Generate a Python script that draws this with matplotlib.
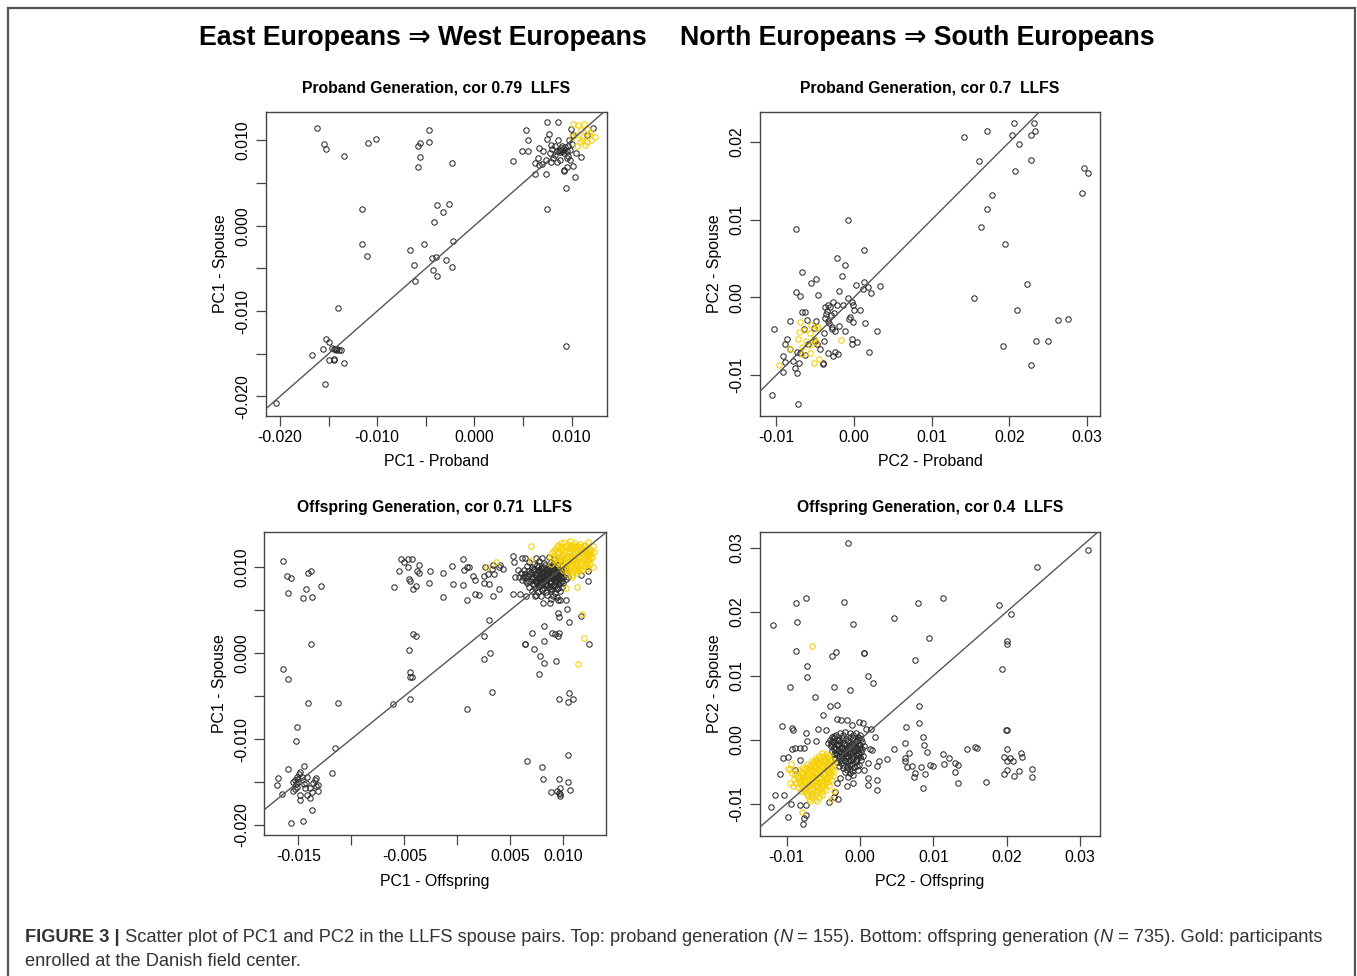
import numpy as np
import matplotlib
matplotlib.use('Agg')
import matplotlib.pyplot as plt
from matplotlib.lines import Line2D

# all coordinates are stored in units of 1e-4
SCALE = 1e-4

# ---- proband generation, PC1 ----
pc1_prob_other = [
    (-162, 115), (-155, 96), (-153, 90), (-134, 82), (-110, 97), (-101, 102), (-47, 112), (-47, 98),
    (-56, 97), (-58, 93), (-56, 81), (-58, 69), (-23, 73),
    (-116, 19), (-116, -22), (-111, -36), (-38, 24), (-26, 26), (-32, 16), (-42, 4), (-52, -21),
    (-22, -18), (-66, -28), (-62, -46), (-61, -65), (-44, -38), (-40, -37), (-29, -40), (-43, -52),
    (-38, -59), (-23, -49),
    (-140, -96), (-153, -133), (-150, -136), (-156, -144), (-167, -152), (-147, -143), (-145, -144),
    (-143, -145), (-142, -146), (-141, -145), (-139, -146), (-137, -146), (-150, -157), (-145, -156),
    (-144, -157), (-134, -161), (-154, -186), (-204, -208), (94, -141),
    (40, 76), (49, 88), (53, 112), (55, 100), (55, 87), (62, 61), (62, 74), (75, 121), (86, 121),
    (77, 107), (75, 102), (75, 19), (74, 61), (67, 91), (65, 79), (71, 87), (67, 71), (74, 77),
    (79, 75), (78, 85), (81, 79), (83, 93), (86, 100), (88, 89), (90, 93), (90, 89), (91, 87),
    (89, 91), (92, 90), (87, 88), (85, 88), (88, 86), (92, 85), (93, 92), (95, 88), (92, 65),
    (92, 64), (94, 44), (95, 69), (98, 77), (101, 70), (104, 57), (105, 85), (110, 80), (99, 113),
    (97, 100), (102, 106), (98, 89), (88, 77), (85, 75), (95, 79), (96, 82), (122, 115), (116, 106),
    (100, 96), (96, 93), (83, 83), (80, 90), (70, 72), (79, 94),
]
pc1_prob_danish = [
    (102, 119), (107, 118), (113, 119), (110, 112), (116, 113), (105, 106), (112, 104), (118, 106),
    (124, 104), (109, 98), (116, 98), (120, 100), (106, 93), (114, 95), (100, 104), (119, 110),
    (111, 101),
]

# ---- proband generation, PC2 ----
pc2_prob_other = [
    (142, 207), (171, 214), (206, 225), (232, 225), (203, 209), (228, 209), (233, 214), (213, 197),
    (161, 176), (228, 177), (207, 163), (296, 166), (302, 160), (294, 134), (178, 132), (171, 114),
    (164, 90), (194, 69), (223, 17), (154, -1), (210, -16), (263, -29), (276, -28), (235, -56),
    (250, -56), (192, -63), (228, -87),
    (-75, 88), (-8, 100), (13, 61), (-22, 51), (-12, 42), (-15, 27), (-67, 33), (-49, 24), (-55, 18),
    (-46, 3), (-75, 7), (-70, 2), (3, 16), (13, 20), (18, 13), (12, 11), (22, 5), (34, 14), (-19, 8),
    (-8, -1), (-3, -6), (-1, -10), (0, -16), (8, -16), (14, -33), (29, -43), (19, -70), (4, -57),
    (-3, -60), (-2, -54), (-1, -32), (-5, -25), (-7, -28), (-14, -10), (-22, -10), (-27, -6),
    (-33, -10), (-36, -21), (-30, -23), (-37, -27), (-33, -30), (-28, -38), (-25, -43), (-29, -41),
    (-20, -37), (-11, -43), (-39, -46), (-39, -56), (-34, -72), (-25, -70), (-27, -76), (-21, -73),
    (-40, -84), (-40, -86), (-49, -30), (-61, -29), (-67, -19), (-63, -19), (-83, -31), (-103, -41),
    (-86, -53), (-89, -60), (-82, -67), (-74, -70), (-70, -72), (-63, -74), (-92, -75), (-89, -83),
    (-91, -96), (-78, -82), (-76, -91), (-71, -85), (-73, -98), (-106, -126), (-72, -137),
    (-52, -40), (-65, -41), (-59, -60), (-50, -56), (-48, -60), (-44, -66), (-35, -18), (-38, -12),
    (-31, -13), (-26, -20), (-32, -33),
]
pc2_prob_danish = [
    (-70, -32), (-71, -45), (-72, -53), (-64, -42), (-57, -46), (-56, -36), (-48, -39), (-47, -38),
    (-51, -54), (-57, -61), (-67, -64), (-67, -73), (-57, -72), (-45, -79), (-52, -84), (-83, -67),
    (-97, -87), (-17, -55), (-49, -58), (-62, -56),
]

# ---- offspring generation, PC1 ----
pc1_off_other = [
    (-164, 107), (-161, 90), (-157, 87), (-160, 70), (-146, 64), (-141, 93), (-138, 95), (-143, 75),
    (-137, 65), (-129, 78), (-138, 11), (-164, -19), (-160, -30), (-141, -58), (-113, -58),
    (-151, -86), (-152, -102), (-115, -110), (-118, -140), (-160, -135), (-169, -145), (-170, -153),
    (-165, -164), (-157, -198), (-146, -195), (-137, -182), (-139, -169), (-142, -165), (-131, -161),
    (-131, -154), (-133, -145), (-145, -131), (-148, -138), (-148, -165), (-155, -161), (-148, -171),
    (-153, -148), (-152, -152), (-151, -156), (-150, -150), (-151, -144), (-149, -141), (-147, -144),
    (-145, -152), (-143, -151), (-142, -144), (-136, -151), (-134, -148), (-133, -155), (-139, -157),
    (-137, -162), (-144, -157), (-150, -147), (-153, -158), (-155, -150),
    (-60, 77), (-55, 95), (-53, 109), (-50, 106), (-47, 109), (-43, 109), (-47, 100), (-46, 86),
    (-45, 84), (-42, 75), (-39, 78), (-38, 95), (-36, 93), (-36, 102), (-26, 95), (-27, 82),
    (-14, 65), (-14, 93), (-5, 101), (-4, 80), (5, 79), (5, 109), (6, 97), (9, 100), (11, 100),
    (9, 62), (15, 90), (17, 85), (17, 69), (20, 67), (26, 100), (25, 81), (25, 90), (29, 92),
    (34, 102), (35, 92), (33, 98), (39, 100), (40, 102), (43, 98), (34, 66), (39, 74), (30, 80),
    (30, 38), (25, 20), (25, -7), (31, 0), (33, -45), (9, -65), (-45, -28), (-43, -28), (-45, -22),
    (-46, 3), (-42, 22), (-39, 20), (-61, -59), (-45, -54),
    (52, 113), (53, 106), (61, 110), (64, 110), (57, 97), (54, 89), (52, 69), (59, 69), (65, 66),
    (73, 66), (81, 58), (87, 58), (95, 62), (97, 62), (102, 62), (103, 51), (95, 46), (96, 42),
    (105, 36), (82, 32), (89, 23), (92, 22), (95, 20), (96, 23), (70, 23), (64, 11), (64, 10),
    (72, 5), (82, 14), (78, -4), (82, -12), (93, -9), (77, -24), (117, 43), (124, 10), (123, 95),
    (123, 84), (117, 91), (96, -53), (105, -46), (104, -57), (109, -53), (104, -119), (66, -126),
    (80, -132), (81, -147), (96, -147), (104, -150), (88, -162), (94, -161), (97, -157), (97, -164),
    (97, -166), (96, -163), (106, -159),
    # dense core of the western cluster
    (74, 111), (80, 110), (86, 112), (91, 109),
    (68, 106), (72, 104), (77, 107), (82, 105), (88, 106), (93, 104), (97, 107),
    (66, 101), (70, 100), (75, 102), (79, 99), (83, 102), (87, 100), (90, 103), (94, 101), (99, 102),
    (102, 99),
    (63, 97), (67, 95), (71, 98), (76, 96), (80, 98), (84, 97), (86, 95), (89, 98), (92, 96), (95, 98),
    (98, 95), (101, 97),
    (60, 93), (64, 92), (69, 94), (73, 92), (77, 94), (81, 93), (83, 91), (85, 94), (88, 92), (90, 94),
    (93, 93), (96, 91), (99, 93), (103, 92),
    (58, 89), (62, 88), (66, 90), (70, 88), (74, 90), (78, 89), (80, 87), (83, 90), (86, 88), (88, 90),
    (91, 89), (94, 87), (97, 90), (100, 88), (104, 89),
    (61, 85), (65, 84), (70, 86), (73, 84), (76, 86), (79, 84), (82, 86), (85, 85), (87, 83), (90, 86),
    (93, 84), (96, 86), (99, 84), (102, 86),
    (66, 81), (71, 80), (75, 82), (78, 80), (81, 82), (84, 80), (87, 81), (90, 79), (93, 82), (96, 80),
    (100, 81),
    (68, 77), (73, 76), (77, 78), (82, 76), (86, 77), (89, 75), (92, 78), (95, 76), (99, 77),
    (70, 72), (76, 71), (80, 73), (84, 71), (88, 72), (92, 70), (97, 72),
    (74, 67), (79, 66), (85, 67), (90, 66), (94, 65), (88, 63),
    (76, 100), (81, 100), (85, 98), (89, 101), (93, 99), (72, 96), (78, 97), (82, 95), (87, 96),
    (91, 97), (96, 95), (68, 92), (75, 93), (79, 91), (84, 92), (87, 90), (92, 91), (95, 89),
    (64, 88), (72, 89), (77, 87), (81, 89), (85, 87), (89, 88), (93, 88), (98, 88), (68, 84),
    (74, 85), (78, 83), (83, 84), (88, 84), (92, 85), (97, 83), (72, 79), (79, 79), (85, 79),
    (91, 80), (80, 75), (87, 74), (94, 74),
]
pc1_off_danish = [
    (95, 126), (101, 129), (106, 130), (111, 128), (116, 127), (120, 126),
    (92, 121), (97, 123), (102, 124), (107, 125), (112, 124), (117, 123), (121, 122), (125, 121),
    (89, 117), (94, 118), (99, 120), (103, 119), (108, 121), (113, 120), (118, 119), (122, 118),
    (126, 117),
    (90, 113), (95, 115), (100, 114), (105, 116), (109, 115), (114, 117), (119, 115), (123, 114),
    (127, 112),
    (92, 109), (97, 111), (101, 110), (106, 112), (110, 110), (115, 112), (120, 111), (124, 109),
    (94, 105), (99, 107), (104, 106), (108, 108), (112, 106), (117, 107), (121, 105), (125, 103),
    (97, 101), (102, 103), (106, 101), (111, 102), (115, 100), (119, 101), (123, 99),
    (100, 97), (105, 96), (110, 97), (114, 95), (118, 96),
    (103, 92), (108, 91), (112, 93),
    (98, 128), (104, 127), (109, 126), (114, 125), (119, 124), (94, 124), (99, 122), (105, 122),
    (110, 123), (115, 121), (120, 120), (124, 119), (91, 119), (96, 116), (101, 117), (106, 118),
    (111, 118), (116, 116), (121, 116), (125, 115), (93, 111), (98, 113), (103, 112), (107, 113),
    (112, 113), (117, 110), (122, 112), (126, 110), (95, 107), (100, 109), (105, 108), (110, 107),
    (114, 108), (119, 108), (123, 106), (98, 103), (103, 105), (108, 104), (113, 104), (117, 103),
    (121, 102), (101, 99), (106, 99), (111, 99), (116, 98), (104, 95), (109, 94), (113, 97),
    (123, 129), (128, 125), (129, 118), (87, 112), (88, 104),
    (69, 124), (69, 108), (28, 100), (36, 106), (118, 45), (119, 18), (114, -13), (102, 76),
    (113, 77), (128, 100), (108, 88),
]

# ---- offspring generation, PC2 ----
pc2_off_other = [
    (-16, 308), (311, 296), (242, 270), (-74, 221), (-87, 213), (-86, 184), (-22, 215), (-9, 181),
    (-119, 179), (47, 190), (79, 213), (113, 222), (189, 210), (206, 196), (94, 159), (200, 155),
    (200, 149), (75, 125), (193, 110), (-87, 139), (-33, 137), (-38, 131), (5, 136), (5, 135),
    (-72, 115), (-72, 98), (11, 100), (18, 89), (-14, 78), (-35, 82), (-96, 83), (-62, 67), (-31, 54),
    (-41, 53), (-51, 38), (-31, 33), (-26, 31), (-18, 31), (-11, 23), (-1, 27), (4, 26), (8, 17),
    (15, 16), (20, 4), (-106, 22), (-93, 19), (-91, 15), (-74, 10), (-72, -2), (-60, -2), (-57, 16),
    (-47, 15),
    (81, 52), (80, 26), (63, 20), (86, 5), (61, -5), (47, -15), (14, -14), (17, -16), (87, -8),
    (91, -19), (67, -21), (61, -29), (62, -34), (64, -42), (71, -41), (83, -42), (75, -52), (74, -59),
    (89, -53), (86, -76), (95, -40), (99, -41), (113, -23), (114, -38), (121, -28), (130, -37),
    (134, -39), (130, -51), (134, -67), (146, -14), (157, -11), (160, -13), (172, -66), (199, 15),
    (201, 15), (201, -15), (196, -27), (205, -29), (200, -34), (209, -33), (220, -21), (221, -27),
    (196, -53), (200, -47), (210, -57), (217, -49), (234, -45), (234, -59),
    (37, -30), (26, -34), (23, -41), (23, -63), (23, -78), (11, -60), (11, -71), (11, -37), (6, -47),
    (-9, -68),
    (-109, -53), (-116, -87), (-121, -105), (-104, -87), (-98, -120), (-94, -100), (-82, -102),
    (-78, -131), (-76, -123), (-74, -118), (-74, -102), (-105, -29), (-98, -27), (-93, -14),
    (-89, -13), (-82, -13), (-77, -13), (-82, -32), (-88, -47), (-30, -93), (-42, -97), (-36, -89),
    (-34, -81), (-32, -68), (-27, -60), (-18, -72),
    # dense core next to the origin
    (-38, 5), (-33, 8), (-27, 10), (-20, 12), (-13, 11), (-6, 10), (0, 8),
    (-41, 0), (-35, 2), (-30, -1), (-25, 3), (-19, 1), (-14, 4), (-9, 2), (-4, 0), (2, 1),
    (-43, -5), (-37, -4), (-32, -6), (-27, -3), (-22, -6), (-17, -4), (-12, -7), (-7, -5), (-2, -6),
    (3, -4),
    (-40, -10), (-35, -12), (-30, -9), (-25, -11), (-20, -13), (-15, -10), (-10, -12), (-5, -11),
    (0, -13), (5, -10),
    (-38, -17), (-33, -15), (-28, -18), (-23, -16), (-18, -19), (-13, -17), (-8, -18), (-3, -16),
    (2, -19),
    (-36, -22), (-31, -24), (-26, -21), (-21, -23), (-16, -25), (-11, -22), (-6, -24), (-1, -22),
    (4, -25),
    (-34, -28), (-29, -30), (-24, -27), (-19, -29), (-14, -31), (-9, -28), (-4, -30), (1, -32),
    (-31, -35), (-26, -37), (-21, -34), (-16, -36), (-11, -38), (-6, -35), (-1, -39),
    (-28, -41), (-23, -44), (-18, -42), (-13, -45), (-8, -43), (-3, -47),
    (-20, -50), (-14, -52), (-9, -55), (-16, -58),
    (-35, 6), (-23, 8), (-10, 7), (-3, 5), (-38, -2), (-28, 0), (-17, -1), (-6, -2), (-1, 3),
    (-40, -7), (-29, -6), (-19, -8), (-9, -8), (0, -9), (-36, -14), (-26, -13), (-16, -14),
    (-6, -14), (3, -15), (-33, -20), (-23, -20), (-13, -20), (-3, -21), (-29, -26), (-19, -26),
    (-9, -25), (0, -27), (-26, -32), (-16, -33), (-6, -32), (-23, -39), (-13, -40), (-4, -41),
    (-18, -47), (-11, -49),
]
pc2_off_danish = [
    (-52, -20), (-47, -22), (-42, -24), (-56, -25),
    (-60, -29), (-54, -28), (-49, -30), (-44, -29), (-39, -31),
    (-66, -33), (-61, -34), (-56, -33), (-51, -35), (-46, -34), (-41, -36), (-36, -35),
    (-72, -38), (-67, -39), (-62, -40), (-57, -38), (-52, -41), (-47, -40), (-42, -41), (-37, -39),
    (-78, -43), (-73, -44), (-68, -45), (-63, -43), (-58, -46), (-53, -45), (-48, -46), (-43, -44),
    (-38, -46),
    (-84, -48), (-79, -50), (-74, -49), (-69, -51), (-64, -49), (-59, -52), (-54, -50), (-49, -52),
    (-44, -50), (-39, -52),
    (-88, -54), (-83, -56), (-78, -55), (-73, -57), (-68, -55), (-63, -58), (-58, -56), (-53, -58),
    (-48, -56), (-43, -58), (-37, -57),
    (-90, -61), (-85, -60), (-80, -62), (-75, -61), (-70, -63), (-65, -61), (-60, -64), (-55, -62),
    (-50, -64), (-45, -62), (-40, -63),
    (-87, -67), (-82, -68), (-77, -66), (-72, -69), (-67, -67), (-62, -70), (-57, -68), (-52, -70),
    (-47, -68), (-42, -71),
    (-84, -74), (-79, -73), (-74, -75), (-69, -73), (-64, -76), (-59, -74), (-54, -76), (-49, -75),
    (-80, -80), (-75, -82), (-70, -80), (-65, -83), (-60, -81), (-55, -84), (-36, -80),
    (-72, -87), (-66, -89), (-61, -92), (-56, -90), (-68, -96), (-40, -92),
    (-50, -25), (-45, -27), (-58, -31), (-48, -32), (-64, -36), (-54, -37), (-44, -38), (-70, -41),
    (-60, -42), (-50, -43), (-40, -42), (-76, -46), (-66, -47), (-56, -48), (-46, -48), (-36, -49),
    (-81, -52), (-71, -53), (-61, -54), (-51, -54), (-41, -55), (-86, -58), (-76, -59), (-66, -59),
    (-56, -60), (-46, -60), (-83, -64), (-73, -65), (-63, -66), (-53, -66), (-43, -66), (-80, -71),
    (-70, -71), (-60, -72), (-50, -72), (-77, -77), (-67, -78), (-57, -78), (-47, -79), (-72, -84),
    (-62, -86), (-52, -86), (-69, -92), (-58, -95),
    (-98, -45), (-95, -68), (-93, -52), (-91, -72),
    (-66, 147), (-79, -113), (-95, -45), (-94, -38),
]

titles = ["Proband Generation, cor 0.79  LLFS", "Proband Generation, cor 0.7  LLFS",
          "Offspring Generation, cor 0.71  LLFS", "Offspring Generation, cor 0.4  LLFS"]
xlabels = ["PC1 - Proband", "PC2 - Proband", "PC1 - Offspring", "PC2 - Offspring"]
ylabels = ["PC1 - Spouse", "PC2 - Spouse", "PC1 - Spouse", "PC2 - Spouse"]

# tick positions and the labels R kept after dropping overlaps
pc1_ticks = [-0.020, -0.015, -0.010, -0.005, 0.000, 0.005, 0.010]
pc1_labels = ["-0.020", "", "-0.010", "", "0.000", "", "0.010"]
pc2_ticks = [-0.01, 0.00, 0.01, 0.02, 0.03]
pc2_labels = ["-0.01", "0.00", "0.01", "0.02", "0.03"]
off1_xticks = [-0.015, -0.010, -0.005, 0.000, 0.005, 0.010]
off1_xlabels = ["-0.015", "", "-0.005", "", "0.005", "0.010"]

W, H = 1357, 976
fig = plt.figure(figsize=(W / 100, H / 100), dpi=100)
plt.rcParams['font.family'] = ['Liberation Sans', 'DejaVu Sans']

BLACK = '#2b2b2b'
GOLD = '#f5cf00'


def px_axes(left, top, right, bottom):
    return fig.add_axes([left / W, 1 - bottom / H, (right - left) / W, (bottom - top) / H])


panels = [
    dict(box=(265.7, 111.7, 606.7, 415.7), data=(pc1_prob_other, pc1_prob_danish),
         xlim=(-0.02148, 0.01362), ylim=(-0.02227, 0.01336),
         xt=(pc1_ticks, pc1_labels), yt=(pc1_ticks, pc1_labels)),
    dict(box=(759.7, 111.7, 1100.3, 415.7), data=(pc2_prob_other, pc2_prob_danish),
         xlim=(-0.01215, 0.03172), ylim=(-0.01524, 0.02391),
         xt=(pc2_ticks, pc2_labels), yt=(pc2_ticks[:4], pc2_labels[:4])),
    dict(box=(264.3, 531.7, 605.7, 835.0), data=(pc1_off_other, pc1_off_danish),
         xlim=(-0.01821, 0.01399), ylim=(-0.02116, 0.01411),
         xt=(off1_xticks, off1_xlabels), yt=(pc1_ticks, pc1_labels)),
    dict(box=(759.7, 531.7, 1100.3, 835.7), data=(pc2_off_other, pc2_off_danish),
         xlim=(-0.01368, 0.03277), ylim=(-0.0150, 0.0325),
         xt=(pc2_ticks, pc2_labels), yt=(pc2_ticks, pc2_labels)),
]

for i, p in enumerate(panels):
    ax = px_axes(*p['box'])
    other = np.array(p['data'][0]) * SCALE
    danish = np.array(p['data'][1]) * SCALE
    ax.plot(other[:, 0], other[:, 1], 'o', mfc='none', mec=BLACK, ms=3.9, mew=0.75, zorder=2)
    ax.plot(danish[:, 0], danish[:, 1], 'o', mfc='none', mec=GOLD, ms=3.9, mew=0.75, zorder=3)
    ax.axline((0, 0), slope=1, color='#555555', lw=1.0, zorder=4)
    ax.set_xlim(p['xlim'])
    ax.set_ylim(p['ylim'])
    ax.set_xticks(p['xt'][0])
    ax.set_xticklabels(p['xt'][1])
    ax.set_yticks(p['yt'][0])
    ax.set_yticklabels(p['yt'][1], rotation=90, va='center')
    ax.tick_params(length=7, width=0.9, color='#444444', labelsize=11.3, pad=3)
    ax.tick_params(axis='y', pad=4)
    for s in ax.spines.values():
        s.set_color('#444444')
        s.set_linewidth(1.0)
    ax.set_title(titles[i], fontsize=11.3, fontweight='bold', pad=14)
    ax.set_xlabel(xlabels[i], fontsize=11.4, labelpad=7)
    ax.set_ylabel(ylabels[i], fontsize=11.4, labelpad=5)

# column headers
head = dict(fontsize=19.3, fontweight='bold', ha='center', va='center',
            family=['Liberation Sans Narrow', 'Liberation Sans', 'DejaVu Sans'])
fig.text(423 / W, 1 - 38 / H, "East Europeans \u21D2 West Europeans", **head)
fig.text(917 / W, 1 - 38 / H, "North Europeans \u21D2 South Europeans", **head)

# frame around the figure panel
for xs, ys in [((8, 1355), (8, 8)), ((8, 8), (8, 976)), ((1355, 1355), (8, 976))]:
    fig.add_artist(Line2D([x / W for x in xs], [1 - y / H for y in ys], color='#555555', lw=1.6))

# caption, written as runs so that bold and italic parts line up
cap_family = ['Liberation Sans Narrow', 'Liberation Sans']
line1 = [("FIGURE 3 |", 'bold', 'normal'),
         (" Scatter plot of PC1 and PC2 in the LLFS spouse pairs. Top: proband generation (", 'normal', 'normal'),
         ("N", 'normal', 'italic'),
         (" = 155). Bottom: offspring generation (", 'normal', 'normal'),
         ("N", 'normal', 'italic'),
         (" = 735). Gold: participants", 'normal', 'normal')]
line2 = [("enrolled at the Danish field center.", 'normal', 'normal')]

renderer = fig.canvas.get_renderer()
for runs, ypx in [(line1, 937), (line2, 962)]:
    x = 25
    for txt, wt, st in runs:
        t = fig.text(x / W, 1 - ypx / H, txt, fontsize=13.15, fontweight=wt, fontstyle=st,
                     family=cap_family, color='#333333', va='center', ha='left')
        bb = t.get_window_extent(renderer=renderer)
        x += bb.width

fig.savefig('out.png', dpi=100)
